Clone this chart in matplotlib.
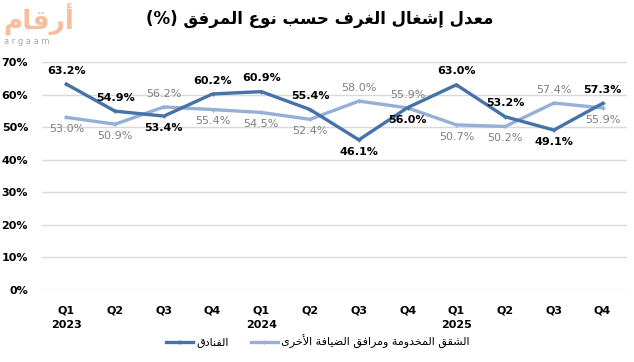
import matplotlib

matplotlib.use("Agg")
import matplotlib.pyplot as plt  # noqa: E402
from matplotlib.ticker import FuncFormatter  # noqa: E402

plt.rcParams.update({"font.family": ["DejaVu Sans"], "font.size": 8})

# ---- data -----------------------------------------------------------------
quarters = ["Q1", "Q2", "Q3", "Q4"] * 3
years = {0: "2023", 4: "2024", 8: "2025"}
hotels = [63.2, 54.9, 53.4, 60.2, 60.9, 55.4, 46.1, 56.0, 63.0, 53.2, 49.1, 57.3]
apartments = [53.0, 50.9, 56.2, 55.4, 54.5, 52.4, 58.0, 55.9, 50.7, 50.2, 57.4, 55.9]
# label side for each point: +1 above, -1 below
hotels_side = [1, 1, -1, 1, 1, 1, -1, -1, 1, 1, -1, 1]
apartments_side = [-1, -1, 1, -1, -1, -1, 1, 1, -1, -1, 1, -1]

title_ar = "معدل إشغال الغرف حسب نوع المرفق"
hotels_name = "الفنادق"
apartments_name = "الشقق المخدومة ومرافق الضيافة الأخرى"
logo_ar = "أرقام"

# ---- minimal arabic shaping (matplotlib has no bidi / joining) -------------
FORMS = {  # isolated, final, initial, medial
    "ا": (0xFE8D, 0xFE8E), "أ": (0xFE83, 0xFE84), "إ": (0xFE87, 0xFE88),
    "ب": (0xFE8F, 0xFE90, 0xFE91, 0xFE92), "ة": (0xFE93, 0xFE94),
    "ت": (0xFE95, 0xFE96, 0xFE97, 0xFE98), "ح": (0xFEA1, 0xFEA2, 0xFEA3, 0xFEA4),
    "خ": (0xFEA5, 0xFEA6, 0xFEA7, 0xFEA8), "د": (0xFEA9, 0xFEAA),
    "ر": (0xFEAD, 0xFEAE), "س": (0xFEB1, 0xFEB2, 0xFEB3, 0xFEB4),
    "ش": (0xFEB5, 0xFEB6, 0xFEB7, 0xFEB8), "ض": (0xFEBD, 0xFEBE, 0xFEBF, 0xFEC0),
    "ع": (0xFEC9, 0xFECA, 0xFECB, 0xFECC), "غ": (0xFECD, 0xFECE, 0xFECF, 0xFED0),
    "ف": (0xFED1, 0xFED2, 0xFED3, 0xFED4), "ق": (0xFED5, 0xFED6, 0xFED7, 0xFED8),
    "ل": (0xFEDD, 0xFEDE, 0xFEDF, 0xFEE0), "م": (0xFEE1, 0xFEE2, 0xFEE3, 0xFEE4),
    "ن": (0xFEE5, 0xFEE6, 0xFEE7, 0xFEE8), "و": (0xFEED, 0xFEEE),
    "ى": (0xFEEF, 0xFEF0), "ي": (0xFEF1, 0xFEF2, 0xFEF3, 0xFEF4),
}
LAM_ALEF = {"ا": (0xFEFB, 0xFEFC), "أ": (0xFEF7, 0xFEF8), "إ": (0xFEF9, 0xFEFA)}


def shape(text):
    chars = list(text)
    out = []
    i = 0
    while i < len(chars):
        c = chars[i]
        if c not in FORMS:
            out.append(c)
            i += 1
            continue
        prev = chars[i - 1] if i > 0 else ""
        joins_prev = prev in FORMS and len(FORMS[prev]) == 4
        if c == "ل" and i + 1 < len(chars) and chars[i + 1] in LAM_ALEF:
            out.append(chr(LAM_ALEF[chars[i + 1]][1 if joins_prev else 0]))
            i += 2
            continue
        nxt = chars[i + 1] if i + 1 < len(chars) else ""
        f = FORMS[c]
        joins_next = len(f) == 4 and nxt in FORMS
        if joins_prev and joins_next:
            out.append(chr(f[3]))
        elif joins_prev:
            out.append(chr(f[1]))
        elif joins_next:
            out.append(chr(f[2]))
        else:
            out.append(chr(f[0]))
        i += 1
    return "".join(out)[::-1]


# ---- figure ---------------------------------------------------------------
fig = plt.figure(figsize=(6.34, 3.62), dpi=100)
ax = fig.add_axes([42 / 634, 1 - 290 / 362, 585 / 634, 228 / 362])

dark = "#4572A7"
light = "#95AFD7"
x = list(range(len(quarters)))
ax.plot(x, hotels, color=dark, lw=2.4, marker="+", ms=3.5, mew=1,
        label=shape(hotels_name), zorder=3)
ax.plot(x, apartments, color=light, lw=2.4, marker="+", ms=3.5, mew=1,
        label=shape(apartments_name), zorder=2)

for xi, v, s in zip(x, hotels, hotels_side):
    ax.annotate(f"{v:.1f}%", (xi, v), xytext=(0, 6 if s > 0 else -5),
                textcoords="offset points", ha="center",
                va="bottom" if s > 0 else "top", fontsize=8,
                fontweight="bold", color="black")
for xi, v, s in zip(x, apartments, apartments_side):
    ax.annotate(f"{v:.1f}%", (xi, v), xytext=(0, 6 if s > 0 else -5),
                textcoords="offset points", ha="center",
                va="bottom" if s > 0 else "top", fontsize=8, color="#7F7F7F")

ax.set_xlim(-0.5, len(quarters) - 0.5)
ax.set_ylim(0, 70)
ax.set_yticks(range(0, 71, 10))
ax.yaxis.set_major_formatter(FuncFormatter(lambda v, _: f"{v:.0f}%"))
ax.set_xticks(x)
ax.set_xticklabels([q + ("\n" + years[i] if i in years else "")
                    for i, q in enumerate(quarters)])
for t in ax.get_xticklabels() + ax.get_yticklabels():
    t.set_fontweight("bold")
for t in ax.get_xticklabels():
    t.set_linespacing(1.6)
ax.tick_params(length=0)
ax.tick_params(axis="x", pad=11)
ax.tick_params(axis="y", pad=10)
ax.grid(axis="y", color="#D9D9D9", lw=1)
ax.set_axisbelow(True)
for sp in ax.spines.values():
    sp.set_visible(False)

ax.legend(loc="center", bbox_to_anchor=(318 / 634, 1 - 342 / 362),
          bbox_transform=fig.transFigure, ncol=2, frameon=False,
          fontsize=8, handlelength=2.4, columnspacing=2, handletextpad=0.3)

fig.text(320 / 634, 1 - 19 / 362, "(%) " + shape(title_ar), ha="center",
         va="center", fontsize=12, fontweight="bold")

# logo
fig.text(3 / 634, 1 - 19 / 362, shape(logo_ar), ha="left", va="center",
         fontsize=19, fontweight="bold", color="#F7BE9E")
fig.text(4 / 634, 1 - 41 / 362, "a r g a a m", ha="left", va="center",
         fontsize=6, color="#A6A6A6")

fig.savefig("out.png", dpi=100)
